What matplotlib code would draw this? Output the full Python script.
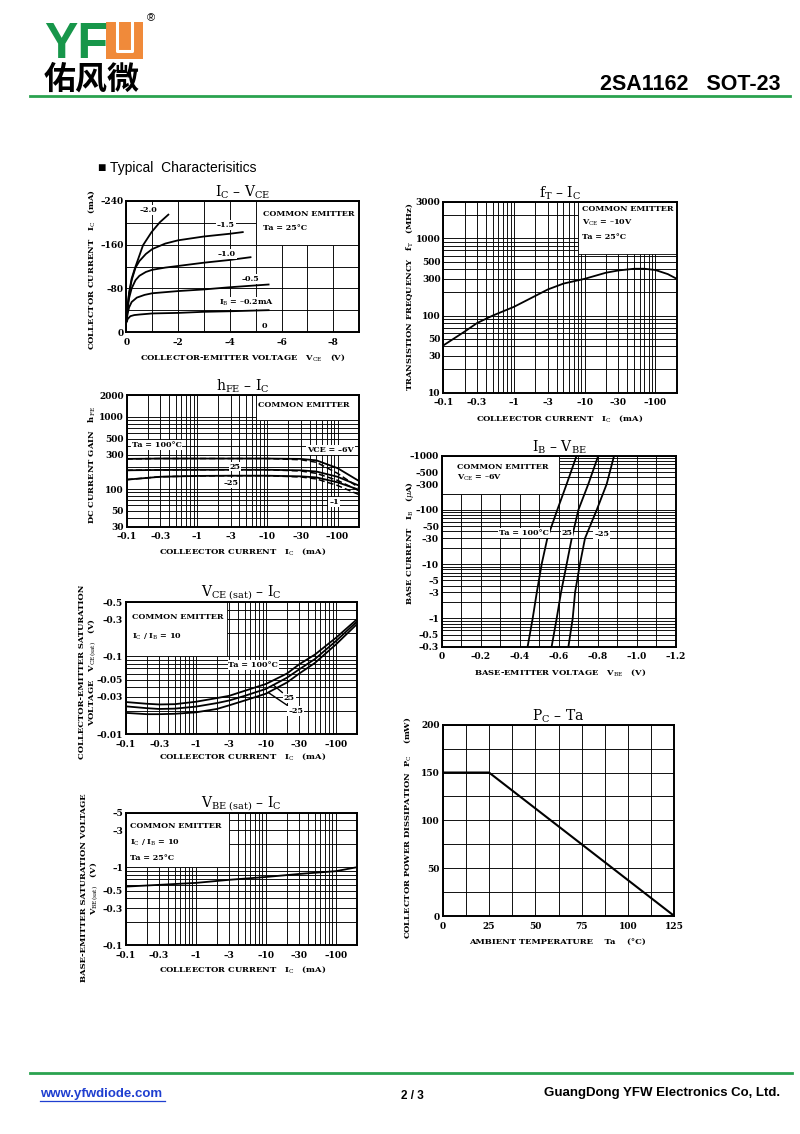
import numpy as np
import matplotlib
matplotlib.use("Agg")
import matplotlib.pyplot as plt
from matplotlib.patches import Rectangle
from matplotlib.lines import Line2D
from matplotlib.ticker import FixedLocator, NullFormatter

plt.rcParams["font.family"] = ["DejaVu Serif"]
plt.rcParams["mathtext.fontset"] = "dejavuserif"

W, H = 800, 1134

# ---- IC - VCE (magnitudes, V / mA) ----
VCE_02 = [0, 0.05, 0.15, 0.3, 0.5, 1, 2, 3, 4, 5.5]
IC_02 = [18, 24, 29, 31, 32, 34, 35, 37, 38, 40]
VCE_05 = [0, 0.05, 0.1, 0.2, 0.4, 0.7, 1, 2, 3, 4, 5.5]
IC_05 = [20, 35, 45, 55, 63, 68, 71, 75, 78, 82, 87]
VCE_10 = [0, 0.05, 0.1, 0.2, 0.35, 0.5, 0.75, 1, 1.5, 2, 3, 4, 4.8]
IC_10 = [20, 45, 62, 80, 95, 103, 110, 114, 118, 121, 127, 132, 137]
VCE_15 = [0, 0.05, 0.1, 0.2, 0.35, 0.5, 0.75, 1, 1.5, 2, 3, 4, 4.5]
IC_15 = [20, 50, 70, 95, 118, 130, 143, 152, 162, 168, 175, 180, 183]
VCE_20 = [0, 0.05, 0.1, 0.2, 0.32, 0.64, 0.97, 1.29, 1.62]
IC_20 = [20, 50, 72, 98, 116, 159, 183, 201, 215]

# ---- hFE - IC ----
IC_H = [0.1, 0.3, 1, 3, 10, 30, 50, 100, 200]
HFE_100_6 = [262, 265, 265, 265, 265, 262, 250, 195, 130]
HFE_100_1 = [262, 265, 265, 265, 265, 255, 235, 165, 105]
HFE_25_6 = [182, 184, 185, 185, 185, 182, 175, 148, 112]
HFE_25_1 = [182, 184, 185, 185, 185, 178, 165, 132, 95]
HFE_M25_6 = [135, 148, 152, 153, 153, 150, 145, 124, 98]
HFE_M25_1 = [135, 148, 152, 153, 153, 147, 138, 112, 84]

# ---- VCE(sat) - IC ----
IC_V = [0.1, 0.2, 0.3, 0.5, 1, 2, 3, 5, 10, 20, 30, 50, 100, 200]
VCES_100 = [0.0258, 0.0245, 0.024, 0.0242, 0.026, 0.029, 0.031, 0.036, 0.044, 0.060, 0.079, 0.105, 0.173, 0.30]
VCES_25 = [0.0227, 0.0215, 0.021, 0.0212, 0.0225, 0.025, 0.027, 0.031, 0.038, 0.053, 0.068, 0.092, 0.157, 0.28]
VCES_M25 = [0.0187, 0.018, 0.018, 0.0182, 0.019, 0.021, 0.0234, 0.027, 0.033, 0.046, 0.060, 0.082, 0.142, 0.26]

# ---- VBE(sat) - IC ----
IC_B = [0.1, 0.3, 1, 3, 10, 30, 100, 200]
VBES = [0.565, 0.595, 0.63, 0.69, 0.75, 0.82, 0.89, 1.0]

# ---- fT - IC ----
IC_F = [0.1, 0.2, 0.3, 0.5, 1, 2, 3, 5, 10, 20, 30, 50, 70, 100, 150, 200]
FT = [41, 62, 80, 100, 130, 180, 218, 260, 300, 360, 385, 405, 405, 390, 345, 300]

# ---- IB - VBE ----
IB = [0.3, 1, 3, 10, 30, 100, 300, 1000]
VBE_100 = [0.44, 0.466, 0.487, 0.512, 0.541, 0.592, 0.64, 0.691]
VBE_25 = [0.563, 0.589, 0.611, 0.64, 0.666, 0.70, 0.751, 0.802]
VBE_M25 = [0.649, 0.671, 0.683, 0.708, 0.734, 0.794, 0.845, 0.883]

# ---- PC - Ta ----
TA = [0, 25, 125]
PC = [150, 150, 0]

LOG_I_TICKS = [0.1, 0.3, 1, 3, 10, 30, 100]
LOG_I_LABELS = ["–0.1", "–0.3", "–1", "–3", "–10", "–30", "–100"]

TK = dict(fontsize=5.8, fontweight="bold")      # text inside charts
LB = dict(fontsize=6.0, fontweight="bold")      # axis labels
WB = dict(facecolor="white", edgecolor="none", pad=0.6)

fig = plt.figure(figsize=(W / 100, H / 100), dpi=100)


def ftext(x, y, s, **kw):
    fig.text(x / W, 1 - y / H, s, **kw)


def new_ax(l, t, r, b):
    ax = fig.add_axes([l / W, 1 - b / H, (r - l) / W, (b - t) / H])
    for sp in ax.spines.values():
        sp.set_linewidth(1.4)
    ax.tick_params(which="both", length=0, pad=2, labelsize=6.5)
    ax.tick_params(axis="x", which="both", pad=4)
    ax.set_axisbelow(True)
    return ax


def log_minor(lo, hi):
    vals = []
    for e in range(int(np.floor(np.log10(lo))), int(np.ceil(np.log10(hi))) + 1):
        for m in range(1, 10):
            v = m * 10.0 ** e
            if lo * 0.999 <= v <= hi * 1.001:
                vals.append(v)
    return vals


def set_log(axis, lo, hi, ticks, labels):
    axis.set_major_locator(FixedLocator(ticks))
    axis.set_minor_locator(FixedLocator(log_minor(lo, hi)))
    axis.set_minor_formatter(NullFormatter())
    axis.set_ticklabels(labels, fontweight="bold")


def finish(ax, title):
    ax.grid(which="both", color="black", lw=0.65)
    ax.set_title(title, fontsize=10, pad=3)


def box(ax, x0, x1, y0, y1):
    ax.add_patch(Rectangle((x0, y0), x1 - x0, y1 - y0, facecolor="white",
                           edgecolor="black", lw=0.6, zorder=1.5))


# ================= IC - VCE =================
ax = new_ax(126.5, 201, 359, 332)
for v, i in [(VCE_02, IC_02), (VCE_05, IC_05), (VCE_10, IC_10), (VCE_15, IC_15), (VCE_20, IC_20)]:
    ax.plot(v, i, color="black", lw=1.3)
ax.set_xlim(0, 9)
ax.set_ylim(0, 240)
ax.xaxis.set_major_locator(FixedLocator([0, 2, 4, 6, 8]))
ax.set_xticklabels(["0", "–2", "–4", "–6", "–8"], fontweight="bold")
ax.xaxis.set_minor_locator(FixedLocator(range(0, 10)))
ax.yaxis.set_major_locator(FixedLocator([0, 80, 160, 240]))
ax.set_yticklabels(["0", "–80", "–160", "–240"], fontweight="bold")
ax.yaxis.set_minor_locator(FixedLocator(range(0, 241, 40)))
box(ax, 5, 9, 160, 240)
ax.text(5.3, 216, "COMMON EMITTER", ha="left", va="center", **TK)
ax.text(5.3, 190, "Ta = 25°C", ha="left", va="center", **TK)
ax.text(0.85, 223, "–2.0", ha="center", va="center", bbox=WB, **TK)
ax.text(3.84, 196, "–1.5", ha="center", va="center", bbox=WB, **TK)
ax.text(3.88, 143, "–1.0", ha="center", va="center", bbox=WB, **TK)
ax.text(4.78, 97, "–0.5", ha="center", va="center", bbox=WB, **TK)
ax.text(4.65, 53, "I$_\\mathrm{B}$ = –0.2mA", ha="center", va="center", bbox=WB, **TK)
ax.text(5.33, 11, "0", ha="center", va="center", bbox=WB, **TK)
finish(ax, "I$_\\mathrm{C}$ – V$_\\mathrm{CE}$")
ftext(243, 358, "COLLECTOR-EMITTER VOLTAGE   V$_\\mathrm{CE}$   (V)", ha="center", va="center", **LB)
ftext(92, 270, "COLLECTOR CURRENT   I$_\\mathrm{C}$   (mA)", ha="center", va="center", rotation=90, **LB)

# ================= hFE - IC =================
ax = new_ax(126.7, 395.3, 358.7, 526.7)
ax.set_xscale("log")
ax.set_yscale("log")
for s, d in [(HFE_100_6, HFE_100_1), (HFE_25_6, HFE_25_1), (HFE_M25_6, HFE_M25_1)]:
    ax.plot(IC_H, s, color="black", lw=1.3)
    ax.plot(IC_H, d, color="black", lw=1.1, ls=(0, (4, 2)))
ax.set_xlim(0.1, 200)
ax.set_ylim(30, 2000)
set_log(ax.xaxis, 0.1, 200, LOG_I_TICKS, LOG_I_LABELS)
set_log(ax.yaxis, 30, 2000, [30, 50, 100, 300, 500, 1000, 2000],
        ["30", "50", "100", "300", "500", "1000", "2000"])
box(ax, 7, 200, 900, 2000)
ax.text(0.764, 0.926, "COMMON EMITTER", transform=ax.transAxes, ha="center", va="center", **TK)
ax.text(0.129, 0.622, "Ta = 100°C", transform=ax.transAxes, ha="center", va="center", bbox=WB, **TK)
ax.text(0.467, 0.457, "25", transform=ax.transAxes, ha="center", va="center", bbox=WB, **TK)
ax.text(0.45, 0.333, "–25", transform=ax.transAxes, ha="center", va="center", bbox=WB, **TK)
ax.text(0.879, 0.584, "VCE = –6V", transform=ax.transAxes, ha="center", va="center", bbox=WB, **TK)
ax.text(0.894, 0.19, "–1", transform=ax.transAxes, ha="center", va="center", bbox=WB, **TK)
finish(ax, "h$_\\mathrm{FE}$ – I$_\\mathrm{C}$")
ftext(243, 552, "COLLEECTOR CURRENT   I$_\\mathrm{C}$   (mA)", ha="center", va="center", **LB)
ftext(92, 465, "DC CURRENT GAIN   h$_\\mathrm{FE}$", ha="center", va="center", rotation=90, **LB)

# ================= VCE(sat) - IC =================
ax = new_ax(125.7, 602, 357, 734)
ax.set_xscale("log")
ax.set_yscale("log")
for v in [VCES_100, VCES_25, VCES_M25]:
    ax.plot(IC_V, v, color="black", lw=1.3)
ax.set_xlim(0.1, 200)
ax.set_ylim(0.01, 0.5)
set_log(ax.xaxis, 0.1, 200, LOG_I_TICKS, LOG_I_LABELS)
set_log(ax.yaxis, 0.01, 0.5, [0.01, 0.03, 0.05, 0.1, 0.3, 0.5],
        ["–0.01", "–0.03", "–0.05", "–0.1", "–0.3", "–0.5"])
box(ax, 0.1, 2.8, 0.1, 0.5)
ax.text(0.026, 0.884, "COMMON EMITTER", transform=ax.transAxes, ha="left", va="center", **TK)
ax.text(0.026, 0.733, "I$_\\mathrm{C}$ / I$_\\mathrm{B}$ = 10", transform=ax.transAxes, ha="left", va="center", **TK)
ax.text(0.552, 0.523, "Ta = 100°C", transform=ax.transAxes, ha="center", va="center", bbox=WB, **TK)
lx = np.log10(IC_V)
y25 = 10 ** np.interp(np.log10(12.8), lx, np.log10(VCES_25))
ym25 = 10 ** np.interp(np.log10(10.8), lx, np.log10(VCES_M25))
ax.annotate("25", xy=(12.8, y25), xytext=(0.707, 0.27), textcoords="axes fraction",
            ha="center", va="center", bbox=WB,
            arrowprops=dict(arrowstyle="-", lw=1.0, color="black", shrinkA=1, shrinkB=0), **TK)
ax.annotate("–25", xy=(10.8, ym25), xytext=(0.735, 0.174), textcoords="axes fraction",
            ha="center", va="center", bbox=WB,
            arrowprops=dict(arrowstyle="-", lw=1.0, color="black", shrinkA=1, shrinkB=0), **TK)
finish(ax, "V$_\\mathrm{CE\\ (sat)}$ – I$_\\mathrm{C}$")
ftext(243, 757, "COLLEECTOR CURRENT   I$_\\mathrm{C}$   (mA)", ha="center", va="center", **LB)
ftext(88, 672, "COLLECTOR-EMITTER SATURATION\nVOLTAGE   V$_\\mathrm{CE(sat)}$   (V)", ha="center", va="center",
      rotation=90, multialignment="center", linespacing=1.0, **LB)

# ================= VBE(sat) - IC =================
ax = new_ax(125.7, 812.7, 356.7, 945.3)
ax.set_xscale("log")
ax.set_yscale("log")
ax.plot(IC_B, VBES, color="black", lw=1.3)
ax.set_xlim(0.1, 200)
ax.set_ylim(0.1, 5)
set_log(ax.xaxis, 0.1, 200, LOG_I_TICKS, LOG_I_LABELS)
set_log(ax.yaxis, 0.1, 5, [0.1, 0.3, 0.5, 1, 3, 5], ["–0.1", "–0.3", "–0.5", "–1", "–3", "–5"])
box(ax, 0.1, 3, 1.0, 5)
ax.text(0.019, 0.90, "COMMON EMITTER", transform=ax.transAxes, ha="left", va="center", **TK)
ax.text(0.019, 0.774, "I$_\\mathrm{C}$ / I$_\\mathrm{B}$ = 10", transform=ax.transAxes, ha="left", va="center", **TK)
ax.text(0.019, 0.66, "Ta = 25°C", transform=ax.transAxes, ha="left", va="center", **TK)
finish(ax, "V$_\\mathrm{BE\\ (sat)}$ – I$_\\mathrm{C}$")
ftext(243, 970, "COLLEECTOR CURRENT   I$_\\mathrm{C}$   (mA)", ha="center", va="center", **LB)
ftext(90, 888, "BASE-EMITTER SATURATION VOLTAGE\nV$_\\mathrm{BE(sat)}$   (V)", ha="center", va="center",
      rotation=90, multialignment="center", linespacing=1.0, **LB)

# ================= fT - IC =================
ax = new_ax(443.3, 201.7, 676.7, 392.7)
ax.set_xscale("log")
ax.set_yscale("log")
ax.plot(IC_F, FT, color="black", lw=1.3)
ax.set_xlim(0.1, 200)
ax.set_ylim(10, 3000)
set_log(ax.xaxis, 0.1, 200, LOG_I_TICKS, LOG_I_LABELS)
set_log(ax.yaxis, 10, 3000, [10, 30, 50, 100, 300, 500, 1000, 3000],
        ["10", "30", "50", "100", "300", "500", "1000", "3000"])
box(ax, 8.0, 200, 620, 3000)
ax.text(0.594, 0.96, "COMMON EMITTER", transform=ax.transAxes, ha="left", va="center", **TK)
ax.text(0.594, 0.887, "V$_\\mathrm{CE}$ = –10V", transform=ax.transAxes, ha="left", va="center", **TK)
ax.text(0.594, 0.814, "Ta = 25°C", transform=ax.transAxes, ha="left", va="center", **TK)
finish(ax, "f$_\\mathrm{T}$ – I$_\\mathrm{C}$")
ftext(560, 419, "COLLEECTOR CURRENT   I$_\\mathrm{C}$   (mA)", ha="center", va="center", **LB)
ftext(410, 297, "TRANSISTION FREQUENCY   f$_\\mathrm{T}$   (MHz)", ha="center", va="center", rotation=90, **LB)

# ================= IB - VBE =================
ax = new_ax(441.7, 455.7, 676, 646.7)
ax.set_yscale("log")
for v in [VBE_100, VBE_25, VBE_M25]:
    ax.plot(v, IB, color="black", lw=1.3)
ax.set_xlim(0, 1.2)
ax.set_ylim(0.3, 1000)
ax.xaxis.set_major_locator(FixedLocator([0, 0.2, 0.4, 0.6, 0.8, 1.0, 1.2]))
ax.set_xticklabels(["0", "–0.2", "–0.4", "–0.6", "–0.8", "–1.0", "–1.2"], fontweight="bold")
ax.xaxis.set_minor_locator(FixedLocator(np.arange(0, 1.21, 0.1)))
set_log(ax.yaxis, 0.3, 1000, [0.3, 0.5, 1, 3, 5, 10, 30, 50, 100, 300, 500, 1000],
        ["–0.3", "–0.5", "–1", "–3", "–5", "–10", "–30", "–50", "–100", "–300", "–500", "–1000"])
box(ax, 0, 0.6, 200, 1000)
ax.text(0.064, 0.942, "COMMON EMITTER", transform=ax.transAxes, ha="left", va="center", **TK)
ax.text(0.064, 0.882, "V$_\\mathrm{CE}$ = –6V", transform=ax.transAxes, ha="left", va="center", **TK)
ax.text(0.351, 0.594, "Ta = 100°C", transform=ax.transAxes, ha="center", va="center", bbox=WB, **TK)
ax.text(0.534, 0.594, "25", transform=ax.transAxes, ha="center", va="center", bbox=WB, **TK)
ax.text(0.683, 0.59, "–25", transform=ax.transAxes, ha="center", va="center", bbox=WB, **TK)
finish(ax, "I$_\\mathrm{B}$ – V$_\\mathrm{BE}$")
ftext(560, 673, "BASE-EMITTER VOLTAGE   V$_\\mathrm{BE}$   (V)", ha="center", va="center", **LB)
ftext(410, 543, "BASE CURRENT   I$_\\mathrm{B}$   ($\\mu$A)", ha="center", va="center", rotation=90, **LB)

# ================= PC - Ta =================
ax = new_ax(442.7, 724.7, 674.3, 916)
ax.plot(TA, PC, color="black", lw=1.5)
ax.set_xlim(0, 125)
ax.set_ylim(0, 200)
ax.xaxis.set_major_locator(FixedLocator([0, 25, 50, 75, 100, 125]))
ax.set_xticklabels(["0", "25", "50", "75", "100", "125"], fontweight="bold")
ax.xaxis.set_minor_locator(FixedLocator(np.arange(0, 126, 12.5)))
ax.yaxis.set_major_locator(FixedLocator([0, 50, 100, 150, 200]))
ax.set_yticklabels(["0", "50", "100", "150", "200"], fontweight="bold")
ax.yaxis.set_minor_locator(FixedLocator(range(0, 201, 25)))
finish(ax, "P$_\\mathrm{C}$ – Ta")
ftext(557, 942, "AMBIENT TEMPERATURE    Ta    (°C)", ha="center", va="center", **LB)
ftext(408, 828, "COLLECTOR POWER DISSIPATION  P$_\\mathrm{C}$    (mW)", ha="center", va="center", rotation=90, **LB)

# ================= page header / footer =================
SANS = ["Liberation Sans", "DejaVu Sans"]
GREEN = "#2aa24f"
ftext(44, 22, "YF", ha="left", va="top", fontsize=36, fontweight="bold", color="#17964a", family=SANS)
ox0, oy0, ow, oh = 106, 22, 37, 37
fig.patches.append(Rectangle((ox0 / W, 1 - (oy0 + oh) / H), ow / W, oh / H, transform=fig.transFigure,
                             facecolor="#f08a3a", edgecolor="none"))
ux = [ox0 + 11, ox0 + 11, ox0 + 26, ox0 + 26]
uy = [oy0, oy0 + 29, oy0 + 29, oy0]
fig.lines.append(Line2D([x / W for x in ux], [1 - y / H for y in uy], transform=fig.transFigure,
                        color="white", lw=2.2))
ftext(151, 18, "®", ha="center", va="center", fontsize=8, family=SANS)
ftext(92, 80, "佑风微", ha="center", va="center", fontsize=23, fontweight="bold",
      family=["Noto Sans CJK SC", "DejaVu Sans"])
ftext(780, 84, "2SA1162   SOT-23", ha="right", va="center", fontsize=15.5, fontweight="bold", family=SANS)
fig.lines.append(Line2D([30 / W, 790 / W], [1 - 96 / H] * 2, transform=fig.transFigure, color=GREEN, lw=2))

ftext(98, 168, "■ Typical  Characterisitics", ha="left", va="center", fontsize=10, family=SANS)

fig.lines.append(Line2D([30 / W, 792 / W], [1 - 1073 / H] * 2, transform=fig.transFigure, color=GREEN, lw=2))
ftext(40, 1094, "www.yfwdiode.com", ha="left", va="center", fontsize=9.5, fontweight="bold",
      color="#1f3fd0", family=SANS)
fig.lines.append(Line2D([40 / W, 165 / W], [1 - 1101 / H] * 2, transform=fig.transFigure, color="#1f3fd0", lw=0.9))
ftext(412, 1096, "2 / 3", ha="center", va="center", fontsize=8.5, fontweight="bold", family=SANS)
ftext(780, 1093, "GuangDong YFW Electronics Co, Ltd.", ha="right", va="center", fontsize=9.5,
      fontweight="bold", family=SANS)

fig.savefig("out.png", dpi=100)
